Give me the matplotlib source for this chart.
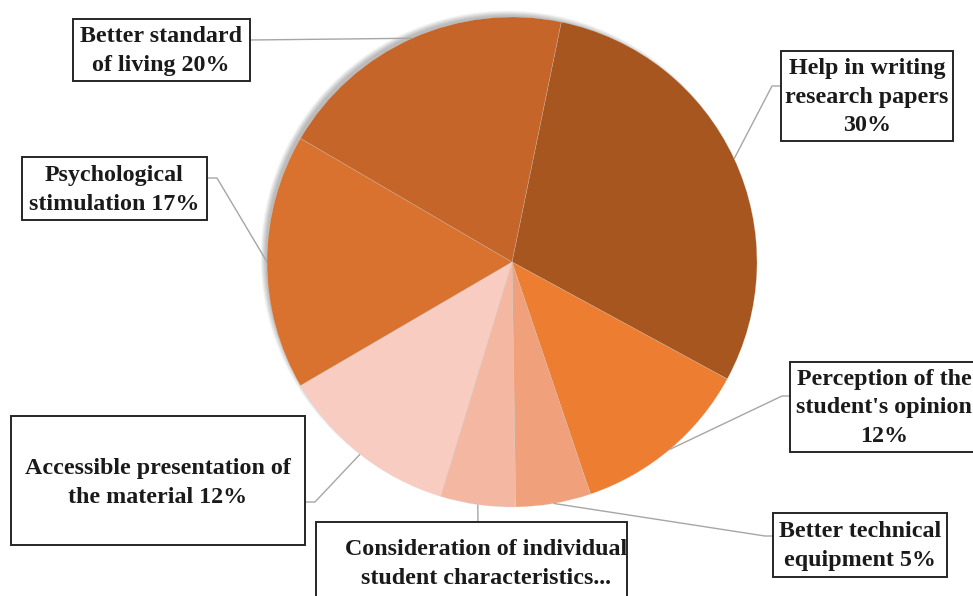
import numpy as np
import matplotlib
matplotlib.use("Agg")
import matplotlib.pyplot as plt
from matplotlib.patches import Rectangle, Circle

# Survey answers, clockwise from the top
categories = [
    "Help in writing\nresearch papers\n30%",
    "Perception of the\nstudent's opinion\n12%",
    "Better technical\nequipment 5%",
    "Consideration of individual\nstudent characteristics...",
    "Accessible presentation of\nthe material 12%",
    "Psychological\nstimulation 17%",
    "Better standard\nof living 20%",
]
values = [30, 12, 5, 5, 12, 17, 20]
colors = ["#A8561F", "#ED7D31", "#F0A07A", "#F4B8A2",
          "#F8CCC0", "#D9722E", "#C5652A"]

# Label box layout in pixel space: (left, top, right, bottom), text centre,
# elbow point of the leader line and where the leader meets the box
boxes = [
    ((781, 51, 953, 141), (867, 97), (772, 86), (781, 86)),
    ((790, 362, 985, 452), (884, 408), (782, 396), (790, 396)),
    ((773, 513, 947, 577), (860, 546), (765, 536), (773, 536)),
    ((316, 522, 627, 610), (486, 564), None, (478, 522)),
    ((11, 416, 305, 545), (158, 483), (315, 502), (305, 502)),
    ((22, 157, 207, 220), (114, 190), (217, 178), (207, 178)),
    ((73, 19, 250, 81), (161, 51), None, (250, 40)),
]

W, H = 973, 596
fig = plt.figure(figsize=(W / 100, H / 100), dpi=100)
ax = fig.add_axes([0, 0, 1, 1])

cx, cy, R = 512, 262, 245

# soft shadow toward the upper left
for k in range(12):
    ax.add_patch(Circle((cx - 5, cy - 5), R + 1.5 - k * 0.5,
                        facecolor="#000000", alpha=0.022, lw=0, zorder=1))

wedges, _ = ax.pie(values, colors=colors, center=(cx, cy), radius=R,
                   startangle=-78.4, counterclock=True,
                   wedgeprops=dict(edgecolor=(0.85, 0.85, 0.85, 0.6),
                                   linewidth=0.3),
                   frame=True)
for w in wedges:
    w.set_zorder(2)

ax.set_xlim(0, W)
ax.set_ylim(H, 0)
ax.set_aspect("equal")
ax.axis("off")

font = dict(family="Liberation Serif", weight="bold", size=17.3,
            color="#1a1a1a")

for w, label, (rect, tc, elbow, end) in zip(wedges, categories, boxes):
    mid = np.deg2rad((w.theta1 + w.theta2) / 2)
    ax_pt = (cx + R * np.cos(mid), cy + R * np.sin(mid))
    pts = [ax_pt] + ([elbow] if elbow else []) + [end]
    xs, ys = zip(*pts)
    ax.plot(xs, ys, color="#A6A6A6", lw=1.0, zorder=3, solid_capstyle="butt")
    l, t, r, b = rect
    ax.add_patch(Rectangle((l, t), r - l, b - t, facecolor="white",
                           edgecolor="#262626", lw=1.4, zorder=4))
    ax.text(tc[0], tc[1], label, ha="center", va="center",
            linespacing=1.45, zorder=5, **font)

fig.savefig("out.png", dpi=100)
